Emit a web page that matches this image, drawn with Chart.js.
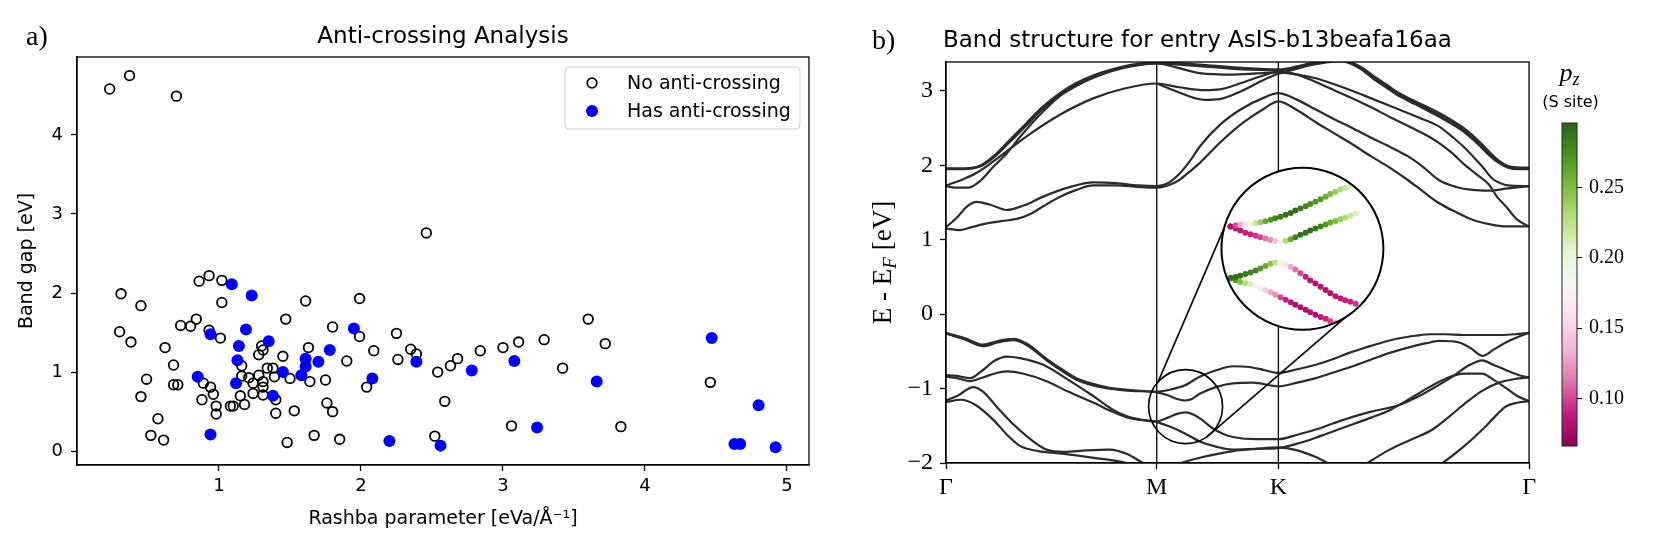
<!DOCTYPE html>
<html>
<head>
<meta charset="utf-8">
<script src="https://cdn.jsdelivr.net/npm/chart.js@4.4.1/dist/chart.umd.min.js"></script>
<style>
  body { margin: 0; background: #fff; }
  #wrap { position: relative; width: 1660px; height: 543px; }
  canvas { position: absolute; top: 0; }
</style>
</head>
<body>
<div id="wrap">
  <canvas id="scatter" width="840" height="543" style="left:0px"></canvas>
  <canvas id="bands" width="700" height="543" style="left:840px"></canvas>
  <canvas id="cbar" width="120" height="543" style="left:1540px"></canvas>
</div>
<script>
// ---------- panel a) anti-crossing scatter ----------
const noX = [0.23, 0.37, 0.70, 0.31, 0.45, 0.30, 0.38, 0.62, 0.68, 0.49, 0.45, 0.68, 0.71, 0.57, 0.52, 0.61,
  0.86, 0.93, 1.02, 1.02, 0.84, 0.73, 0.80, 0.93, 1.01, 1.47, 1.61, 1.80, 1.99, 1.99, 1.63, 1.90, 1.45,
  1.30, 1.31, 1.28, 1.16, 1.21, 1.16, 1.28, 1.34, 1.38, 1.24, 1.31, 1.31, 1.24, 1.31, 1.39, 1.50, 1.64, 1.75,
  0.89, 0.94, 0.96, 0.88, 0.98, 0.98, 1.08, 1.10, 1.15, 1.18, 1.40, 1.40, 1.53, 1.76, 1.80, 1.67, 1.48, 1.85,
  2.46, 2.09, 2.25, 2.26, 2.35, 2.39, 2.04, 2.54, 2.63, 2.68, 2.59, 2.84, 3.00, 3.11, 3.29, 3.42, 3.60, 3.72,
  4.46, 3.06, 3.83, 2.52];
const noY = [4.58, 4.75, 4.49, 1.99, 1.84, 1.51, 1.38, 1.31, 1.09, 0.91, 0.69, 0.84, 0.84, 0.41, 0.20, 0.14,
  2.15, 2.22, 2.16, 1.88, 1.67, 1.59, 1.58, 1.53, 1.43, 1.67, 1.90, 1.57, 1.93, 1.45, 1.31, 1.14, 1.20,
  1.33, 1.28, 1.22, 1.08, 0.93, 0.95, 0.96, 1.05, 1.05, 0.86, 0.88, 0.81, 0.73, 0.71, 0.94, 0.92, 0.88, 0.90,
  0.86, 0.81, 0.72, 0.65, 0.57, 0.47, 0.57, 0.57, 0.70, 0.59, 0.65, 0.48, 0.51, 0.61, 0.50, 0.20, 0.11, 0.15,
  2.76, 1.27, 1.49, 1.16, 1.29, 1.23, 0.81, 1.00, 1.08, 1.17, 0.63, 1.27, 1.31, 1.38, 1.41, 1.05, 1.67, 1.36,
  0.87, 0.32, 0.31, 0.19];
const hasX = [1.09, 1.23, 0.94, 1.19, 1.14, 1.35, 1.13, 0.85, 1.12, 1.45, 1.38, 1.61, 1.61, 1.58, 1.70, 1.78,
  1.95, 0.94, 2.08, 2.39, 2.78, 3.08, 3.66, 4.47, 4.80, 3.24, 2.20, 2.56, 4.63, 4.67, 4.92];
const hasY = [2.11, 1.97, 1.48, 1.54, 1.33, 1.39, 1.15, 0.94, 0.86, 1.00, 0.70, 1.17, 1.07, 0.96, 1.13, 1.28,
  1.55, 0.21, 0.92, 1.13, 1.02, 1.14, 0.88, 1.43, 0.58, 0.30, 0.13, 0.07, 0.09, 0.09, 0.05];
const gapTicks = [0, 1, 2, 3, 4];
const rashbaTicks = [1, 2, 3, 4, 5];
const legendLabels = ['No anti-crossing', 'Has anti-crossing'];

// ---------- panel b) band structure ----------
const kLabels = ['Γ', 'M', 'K', 'Γ'];
const kPos = [0, 0.570, 0.899, 1.577];
const energyTicks = [-2, -1, 0, 1, 2, 3];

// conduction bands, [k, E]
const cb1a = [[0,1.96],[0.05,1.96],[0.09,1.99],[0.128,2.12],[0.17,2.33],[0.218,2.57],[0.26,2.78],[0.308,2.97],
  [0.35,3.10],[0.40,3.21],[0.45,3.29],[0.50,3.35],[0.570,3.38],[0.64,3.37],[0.72,3.34],[0.80,3.31],[0.899,3.29],
  [0.95,3.33],[1.00,3.39],[1.07,3.43],[1.12,3.31],[1.154,3.19],[1.19,3.07],[1.226,2.95],[1.27,2.84],[1.316,2.72],
  [1.36,2.60],[1.406,2.45],[1.44,2.30],[1.47,2.15],[1.496,2.04],[1.52,1.98],[1.55,1.96],[1.577,1.96]];
const cb1b = [[0,1.95],[0.05,1.95],[0.09,1.98],[0.128,2.10],[0.17,2.30],[0.218,2.54],[0.26,2.75],[0.308,2.95],
  [0.35,3.08],[0.40,3.19],[0.45,3.28],[0.50,3.34],[0.570,3.37],[0.64,3.35],[0.72,3.32],[0.80,3.29],[0.899,3.28],
  [0.95,3.31],[1.00,3.36],[1.07,3.40],[1.12,3.30],[1.154,3.17],[1.19,3.05],[1.226,2.93],[1.27,2.82],[1.316,2.70],
  [1.36,2.58],[1.406,2.43],[1.44,2.28],[1.47,2.13],[1.496,2.03],[1.52,1.97],[1.55,1.95],[1.577,1.95]];
const cb2 = [[0,1.72],[0.03,1.70],[0.06,1.70],[0.09,1.78],[0.128,1.98],[0.164,2.16],[0.20,2.38],[0.25,2.66],
  [0.308,2.93],[0.35,3.06],[0.40,3.18],[0.45,3.27],[0.50,3.33],[0.570,3.37],[0.62,3.32],[0.686,3.24],[0.78,3.22],
  [0.899,3.25],[0.95,3.22],[1.0,3.17],[1.05,3.09],[1.1,3.00],[1.15,2.90],[1.2,2.80],[1.25,2.70],[1.28,2.64],
  [1.334,2.52],[1.37,2.38],[1.40,2.25],[1.451,1.98],[1.478,1.82],[1.50,1.76],[1.52,1.73],[1.577,1.72]];
const cb3 = [[0,1.73],[0.04,1.80],[0.083,1.90],[0.146,2.12],[0.218,2.39],[0.308,2.68],[0.398,2.90],[0.48,3.03],
  [0.570,3.10],[0.63,3.05],[0.70,3.01],[0.74,3.02],[0.80,3.11],[0.86,3.21],[0.899,3.26],[0.95,3.22],[1.0,3.12],
  [1.05,3.01],[1.1,2.90],[1.15,2.78],[1.2,2.65],[1.25,2.53],[1.29,2.43],[1.334,2.30],[1.37,2.16],[1.40,2.02],
  [1.435,1.88],[1.469,1.74],[1.49,1.58],[1.514,1.45],[1.545,1.27],[1.577,1.18]];
const cb4 = [[0.570,3.10],[0.62,3.00],[0.70,2.88],[0.74,2.89],[0.80,3.00],[0.86,3.15],[0.899,3.23],[0.95,3.30],
  [1.0,3.37],[1.07,3.41],[1.12,3.33],[1.154,3.21],[1.19,3.09],[1.226,2.97],[1.27,2.86],[1.316,2.75],[1.36,2.63],
  [1.406,2.48],[1.44,2.33],[1.47,2.18],[1.496,2.06],[1.52,1.99],[1.55,1.97],[1.577,1.97]];
const cbX = [[0,1.17],[0.03,1.30],[0.055,1.44],[0.083,1.51],[0.12,1.47],[0.164,1.40],[0.21,1.46],[0.263,1.58],
  [0.33,1.70],[0.398,1.77],[0.46,1.76],[0.52,1.73],[0.570,1.72],[0.60,1.76],[0.63,1.88],[0.66,2.06],[0.686,2.25],
  [0.74,2.54],[0.80,2.76],[0.86,2.91],[0.899,2.97],[0.95,2.88],[1.0,2.75],[1.05,2.62],[1.1,2.50],[1.15,2.37],
  [1.2,2.25],[1.25,2.12],[1.29,1.98],[1.334,1.80],[1.38,1.71],[1.424,1.67],[1.47,1.66],[1.52,1.69],[1.577,1.72]];
const cbY = [[0,1.15],[0.038,1.13],[0.07,1.17],[0.11,1.22],[0.15,1.25],[0.191,1.28],[0.23,1.35],[0.263,1.45],
  [0.31,1.58],[0.353,1.67],[0.398,1.73],[0.46,1.73],[0.52,1.71],[0.570,1.70],[0.60,1.73],[0.63,1.80],[0.66,1.92],
  [0.686,2.03],[0.74,2.30],[0.80,2.56],[0.86,2.76],[0.899,2.86],[0.95,2.74],[1.0,2.58],[1.05,2.43],[1.1,2.28],
  [1.15,2.12],[1.2,1.97],[1.25,1.80],[1.29,1.65],[1.334,1.49],[1.38,1.37],[1.424,1.27],[1.47,1.21],[1.514,1.18],
  [1.577,1.18]];

// valence bands, [k, E]
const vb1a = [[0,-0.25],[0.05,-0.32],[0.101,-0.41],[0.14,-0.36],[0.182,-0.33],[0.22,-0.40],[0.272,-0.60],
  [0.31,-0.73],[0.353,-0.86],[0.40,-0.94],[0.443,-0.99],[0.50,-1.02],[0.570,-1.04],[0.61,-1.01],[0.645,-0.96],
  [0.686,-0.84],[0.74,-0.74],[0.776,-0.70],[0.82,-0.71],[0.86,-0.75],[0.899,-0.79],[0.95,-0.74],[1.0,-0.68],
  [1.05,-0.60],[1.09,-0.52],[1.14,-0.44],[1.18,-0.38],[1.23,-0.32],[1.27,-0.29],[1.31,-0.27],[1.35,-0.27],
  [1.40,-0.28],[1.45,-0.28],[1.50,-0.28],[1.54,-0.27],[1.577,-0.25]];
const vb1b = [[0,-0.26],[0.05,-0.34],[0.101,-0.43],[0.14,-0.38],[0.182,-0.35],[0.22,-0.42],[0.272,-0.62],
  [0.31,-0.75],[0.353,-0.88],[0.40,-0.96],[0.443,-1.00],[0.50,-1.03],[0.570,-1.05],[0.60,-1.09],[0.625,-1.14],
  [0.645,-1.16],[0.665,-1.14],[0.686,-1.07],[0.73,-0.98],[0.776,-0.93],[0.83,-0.92],[0.899,-0.97],[0.95,-0.92],
  [1.0,-0.86],[1.05,-0.78],[1.10,-0.70],[1.15,-0.61],[1.20,-0.52],[1.25,-0.45],[1.30,-0.39],[1.334,-0.36],
  [1.388,-0.38],[1.42,-0.46],[1.451,-0.56],[1.48,-0.48],[1.514,-0.38],[1.55,-0.30],[1.577,-0.25]];
const vb2a = [[0,-0.82],[0.03,-0.83],[0.065,-0.86],[0.10,-0.75],[0.13,-0.63],[0.164,-0.57],[0.20,-0.59],
  [0.263,-0.68],[0.33,-0.88],[0.398,-1.10],[0.45,-1.28],[0.488,-1.37],[0.53,-1.42],[0.570,-1.44],[0.60,-1.39],
  [0.625,-1.34],[0.648,-1.32],[0.67,-1.35],[0.69,-1.41],[0.72,-1.53],[0.75,-1.61],[0.776,-1.65],[0.84,-1.68],
  [0.899,-1.68],[0.95,-1.62],[1.0,-1.55],[1.046,-1.47],[1.10,-1.38],[1.15,-1.31],[1.226,-1.22],[1.28,-1.10],
  [1.33,-0.96],[1.37,-0.84],[1.41,-0.70],[1.451,-0.62],[1.48,-0.68],[1.514,-0.75],[1.55,-0.82],[1.577,-0.85]];
const vb2b = [[0,-0.84],[0.03,-0.86],[0.065,-0.90],[0.10,-0.85],[0.13,-0.80],[0.164,-0.77],[0.21,-0.80],
  [0.272,-0.90],[0.33,-1.04],[0.40,-1.19],[0.45,-1.31],[0.50,-1.40],[0.570,-1.45],[0.61,-1.52],[0.645,-1.60],
  [0.686,-1.71],[0.73,-1.78],[0.776,-1.82],[0.84,-1.81],[0.899,-1.80],[0.95,-1.74],[1.0,-1.66],[1.05,-1.57],
  [1.1,-1.48],[1.15,-1.39],[1.2,-1.29],[1.25,-1.15],[1.30,-1.00],[1.35,-0.87],[1.40,-0.80],[1.45,-0.80],
  [1.48,-0.88],[1.514,-0.99],[1.545,-1.10],[1.577,-1.17]];
const vb3 = [[0,-1.16],[0.03,-1.10],[0.074,-0.98],[0.10,-1.04],[0.14,-1.26],[0.18,-1.47],[0.218,-1.64],
  [0.25,-1.76],[0.272,-1.82],[0.32,-1.85],[0.38,-1.83],[0.443,-1.82],[0.49,-1.88],[0.533,-2.0],[0.570,-2.08],
  [0.62,-2.02],[0.686,-1.93],[0.776,-1.84],[0.84,-1.81],[0.899,-1.79],[0.95,-1.83],[1.0,-1.92],[1.04,-2.02],
  [1.08,-2.12]];
const vb4 = [[0,-1.18],[0.04,-1.15],[0.08,-1.22],[0.128,-1.42],[0.165,-1.62],[0.20,-1.77],[0.25,-1.84],
  [0.308,-1.87],[0.40,-1.93],[0.488,-2.0],[0.54,-2.08],[0.57,-2.12]];
const vb5 = [[1.08,-2.2],[1.14,-2.0],[1.20,-1.82],[1.26,-1.68],[1.316,-1.55],[1.36,-1.38],[1.406,-1.19],
  [1.45,-1.03],[1.496,-0.92],[1.54,-0.87],[1.577,-0.85]];
const vb6 = [[1.28,-2.2],[1.343,-2.0],[1.40,-1.78],[1.451,-1.55],[1.49,-1.35],[1.514,-1.24],[1.545,-1.19],
  [1.577,-1.17]];
const bandList = [cb1a, cb1b, cb2, cb3, cb4, cbX, cbY, vb1a, vb1b, vb2a, vb2b, vb3, vb4, vb5, vb6];

// zoomed inset: projected p_z weight (S site) on the anti-crossing bands
const insetK = [0.570, 0.579, 0.587, 0.596, 0.605, 0.614, 0.622, 0.631, 0.640, 0.648, 0.657, 0.666, 0.675,
  0.683, 0.692, 0.701, 0.709, 0.718, 0.727, 0.736, 0.744, 0.753, 0.762, 0.770, 0.779, 0.788];
const upperA = [-1.028, -1.020, -1.013, -1.008, -1.004, -0.999, -0.993, -0.984, -0.972, -0.960, -0.946, -0.931,
  -0.915, -0.896, -0.878, -0.861, -0.842, -0.823, -0.802, -0.781, -0.760, -0.740, -0.721, -0.706, -0.696, -0.688];
const upperB = [-1.028, -1.044, -1.061, -1.078, -1.092, -1.104, -1.115, -1.127, -1.139, -1.150, -1.158, -1.147,
  -1.133, -1.115, -1.096, -1.078, -1.060, -1.044, -1.028, -1.011, -0.995, -0.981, -0.967, -0.953, -0.939, -0.921];
const lowerA = [-1.453, -1.444, -1.434, -1.420, -1.406, -1.391, -1.374, -1.354, -1.335, -1.325, -1.328, -1.341,
  -1.359, -1.381, -1.413, -1.442, -1.472, -1.498, -1.524, -1.551, -1.578, -1.602, -1.621, -1.635, -1.648, -1.664];
const lowerB = [-1.454, -1.471, -1.485, -1.495, -1.504, -1.519, -1.536, -1.553, -1.569, -1.588, -1.610, -1.631,
  -1.652, -1.672, -1.693, -1.714, -1.734, -1.755, -1.773, -1.789, -1.808, -1.825, -1.841, -1.858, -1.874, -1.891];
const wUpperA = [0.08, 0.10, 0.13, 0.16, 0.19, 0.22, 0.24, 0.26, 0.27, 0.28, 0.285, 0.29, 0.29, 0.29, 0.285,
  0.28, 0.275, 0.27, 0.27, 0.26, 0.25, 0.24, 0.23, 0.22, 0.21, 0.19];
const wUpperB = [0.08, 0.08, 0.085, 0.09, 0.09, 0.095, 0.10, 0.11, 0.12, 0.14, 0.18, 0.23, 0.26, 0.28, 0.29,
  0.29, 0.29, 0.285, 0.28, 0.27, 0.26, 0.25, 0.24, 0.23, 0.22, 0.21];
const wLowerA = [0.29, 0.29, 0.29, 0.285, 0.28, 0.28, 0.27, 0.26, 0.245, 0.225, 0.195, 0.16, 0.13, 0.11, 0.10,
  0.09, 0.085, 0.08, 0.08, 0.08, 0.08, 0.085, 0.085, 0.09, 0.09, 0.095];
const wLowerB = [0.28, 0.27, 0.25, 0.23, 0.21, 0.19, 0.17, 0.15, 0.13, 0.12, 0.10, 0.09, 0.085, 0.08, 0.08,
  0.08, 0.08, 0.08, 0.085, 0.09, 0.10, 0.12, 0.13, 0.14, 0.15, 0.16];

// inset placement (main-axis units) and inset axis limits
const insetBoxK = [0.745, 1.183];
const insetBoxE = [-0.208, 1.966];
const insetLimK = [0.5543, 0.8365];
const insetLimE = [-1.878, -0.544];
const zoomSpot = { k: 0.648, E: -1.242, r: 37 };
const connectorAngles = [[222, 195], [56, 58]];

// colorbar
const cbMin = 0.066;
const cbMax = 0.296;
const cbTicks = [0.10, 0.15, 0.20, 0.25];
const piygStops = ['#8e0152', '#c51b7d', '#de77ae', '#f1b6da', '#fde0ef', '#f7f7f7',
  '#e6f5d0', '#b8e186', '#7fbc41', '#4d9221', '#276419'];

const SANS = 'DejaVu Sans';
const SERIF = 'Liberation Serif';

function hexRgb(h) {
  return [parseInt(h.slice(1, 3), 16), parseInt(h.slice(3, 5), 16), parseInt(h.slice(5, 7), 16)];
}

function piyg(v) {
  let t = (v - cbMin) / (cbMax - cbMin);
  t = Math.min(1, Math.max(0, t)) * (piygStops.length - 1);
  const i = Math.min(Math.floor(t), piygStops.length - 2);
  const f = t - i;
  const a = hexRgb(piygStops[i]);
  const b = hexRgb(piygStops[i + 1]);
  const c = a.map((va, j) => Math.round(va + (b[j] - va) * f));
  return 'rgb(' + c.join(',') + ')';
}

// axis limits of a hidden scale so the inset window lands on its box
function mapLimits(lim, box, axMin, axMax) {
  const s = (lim[1] - lim[0]) / (box[1] - box[0]);
  return [lim[0] - (box[0] - axMin) * s, lim[0] + (axMax - box[0]) * s];
}

function fixTicks(values) {
  return function (scale) {
    scale.ticks = values.map(v => ({ value: v }));
  };
}

// ---------- chart a) ----------
const scatterDecor = {
  id: 'scatterDecor',
  afterDraw(chart) {
    const ctx = chart.ctx;
    const a = chart.chartArea;
    ctx.save();
    ctx.strokeStyle = '#000';
    ctx.lineWidth = 1.3;
    ctx.strokeRect(a.left, a.top, a.right - a.left, a.bottom - a.top);

    ctx.fillStyle = '#000';
    ctx.textBaseline = 'alphabetic';
    ctx.font = '23px "' + SANS + '"';
    ctx.textAlign = 'center';
    ctx.fillText('Anti-crossing Analysis', (a.left + a.right) / 2, a.top - 14.5);
    ctx.font = '28px "' + SERIF + '"';
    ctx.textAlign = 'left';
    ctx.fillText('a)', 26, 45);

    // legend box (upper right)
    const bw = 235, bh = 62;
    const bx = a.right - 9 - bw, by = a.top + 10;
    ctx.beginPath();
    ctx.roundRect(bx, by, bw, bh, 4);
    ctx.fillStyle = 'rgba(255,255,255,0.8)';
    ctx.fill();
    ctx.strokeStyle = '#cccccc';
    ctx.lineWidth = 1;
    ctx.stroke();

    const mx = bx + 27;
    const rows = [by + 16, by + 44];
    ctx.beginPath();
    ctx.arc(mx, rows[0], 4.8, 0, Math.PI * 2);
    ctx.strokeStyle = '#000';
    ctx.lineWidth = 1.8;
    ctx.stroke();
    ctx.beginPath();
    ctx.arc(mx, rows[1], 6, 0, Math.PI * 2);
    ctx.fillStyle = '#0000ff';
    ctx.fill();

    ctx.fillStyle = '#000';
    ctx.font = '19px "' + SANS + '"';
    ctx.textBaseline = 'middle';
    ctx.fillText(legendLabels[0], bx + 62, rows[0] + 1);
    ctx.fillText(legendLabels[1], bx + 62, rows[1] + 1);
    ctx.restore();
  }
};

new Chart(document.getElementById('scatter'), {
  type: 'scatter',
  data: {
    datasets: [
      {
        label: legendLabels[0],
        data: noX.map((x, i) => ({ x: x, y: noY[i] })),
        pointRadius: 4.8,
        pointBorderWidth: 1.8,
        pointBorderColor: '#000',
        pointBackgroundColor: 'rgba(0,0,0,0)',
        order: 1
      },
      {
        label: legendLabels[1],
        data: hasX.map((x, i) => ({ x: x, y: hasY[i] })),
        pointRadius: 6,
        pointBorderWidth: 0,
        pointBorderColor: '#0000ff',
        pointBackgroundColor: '#0000ff',
        order: 0
      }
    ]
  },
  options: {
    responsive: false,
    animation: false,
    devicePixelRatio: 1,
    events: [],
    layout: { padding: { left: 0, top: 57, right: 31, bottom: 0 } },
    plugins: { legend: { display: false }, tooltip: { enabled: false } },
    scales: {
      x: {
        type: 'linear',
        min: 0,
        max: 5.155,
        afterBuildTicks: fixTicks(rashbaTicks),
        afterFit: s => { s.height = 78; },
        grid: { drawOnChartArea: false, drawTicks: true, tickLength: 6, tickWidth: 1.3, tickColor: '#000' },
        border: { display: true, color: '#000', width: 1.3 },
        ticks: { color: '#000', font: { family: SANS, size: 18 }, padding: 5, maxRotation: 0, autoSkip: false },
        title: {
          display: true,
          text: 'Rashba parameter [eVa/Å⁻¹]',
          color: '#000',
          font: { family: SANS, size: 19 },
          padding: { top: 0, bottom: 13 }
        }
      },
      y: {
        type: 'linear',
        min: -0.175,
        max: 4.985,
        afterBuildTicks: fixTicks(gapTicks),
        afterFit: s => { s.width = 77; },
        grid: { drawOnChartArea: false, drawTicks: true, tickLength: 6, tickWidth: 1.3, tickColor: '#000' },
        border: { display: true, color: '#000', width: 1.3 },
        ticks: { color: '#000', font: { family: SANS, size: 18 }, padding: 8, autoSkip: false },
        title: {
          display: true,
          text: 'Band gap [eV]',
          color: '#000',
          font: { family: SANS, size: 19 },
          padding: { top: 16, bottom: 0 }
        }
      }
    }
  },
  plugins: [scatterDecor]
});

// ---------- chart b) ----------
function insetCircle(chart) {
  const x = chart.scales.x, y = chart.scales.y;
  const l = x.getPixelForValue(insetBoxK[0]), r = x.getPixelForValue(insetBoxK[1]);
  const t = y.getPixelForValue(insetBoxE[1]), b = y.getPixelForValue(insetBoxE[0]);
  return { x: (l + r) / 2, y: (t + b) / 2, r: (r - l) / 2 };
}

const bandDecor = {
  id: 'bandDecor',
  beforeDatasetsDraw(chart) {
    const ctx = chart.ctx, a = chart.chartArea, x = chart.scales.x;
    ctx.save();
    ctx.strokeStyle = '#000';
    ctx.lineWidth = 1.3;
    [kPos[1], kPos[2]].forEach(k => {
      const px = x.getPixelForValue(k);
      ctx.beginPath();
      ctx.moveTo(px, a.top);
      ctx.lineTo(px, a.bottom);
      ctx.stroke();
    });
    ctx.restore();
    chart.$insetStarted = false;
  },
  beforeDatasetDraw(chart, args) {
    if (!chart.data.datasets[args.index].inset) return;
    const ctx = chart.ctx;
    const c = insetCircle(chart);
    if (!chart.$insetStarted) {
      chart.$insetStarted = true;
      ctx.save();
      ctx.fillStyle = '#fff';
      ctx.beginPath();
      ctx.arc(c.x, c.y, c.r, 0, Math.PI * 2);
      ctx.fill();
      ctx.restore();
    }
    ctx.save();
    ctx.beginPath();
    ctx.arc(c.x, c.y, c.r, 0, Math.PI * 2);
    ctx.clip();
  },
  afterDatasetDraw(chart, args) {
    if (chart.data.datasets[args.index].inset) chart.ctx.restore();
  },
  afterDatasetsDraw(chart) {
    const ctx = chart.ctx;
    const c = insetCircle(chart);
    const sx = chart.scales.x.getPixelForValue(zoomSpot.k);
    const sy = chart.scales.y.getPixelForValue(zoomSpot.E);
    ctx.save();
    ctx.strokeStyle = '#000';
    ctx.lineWidth = 1.6;
    ctx.beginPath();
    ctx.arc(sx, sy, zoomSpot.r, 0, Math.PI * 2);
    ctx.stroke();
    connectorAngles.forEach(p => {
      const a0 = p[0] * Math.PI / 180, a1 = p[1] * Math.PI / 180;
      ctx.beginPath();
      ctx.moveTo(sx + zoomSpot.r * Math.cos(a0), sy + zoomSpot.r * Math.sin(a0));
      ctx.lineTo(c.x + c.r * Math.cos(a1), c.y + c.r * Math.sin(a1));
      ctx.stroke();
    });
    ctx.lineWidth = 2;
    ctx.beginPath();
    ctx.arc(c.x, c.y, c.r, 0, Math.PI * 2);
    ctx.stroke();
    ctx.restore();
  },
  afterDraw(chart) {
    const ctx = chart.ctx, a = chart.chartArea;
    ctx.save();
    ctx.strokeStyle = '#000';
    ctx.lineWidth = 1.3;
    ctx.strokeRect(a.left, a.top, a.right - a.left, a.bottom - a.top);

    ctx.fillStyle = '#000';
    ctx.textBaseline = 'alphabetic';
    ctx.textAlign = 'left';
    ctx.font = '23px "' + SANS + '"';
    ctx.fillText('Band structure for entry AsIS-b13beafa16aa', a.left - 3, a.top - 15.5);
    ctx.font = '28px "' + SERIF + '"';
    ctx.fillText('b)', 32, 49);

    // y label: E - E_F [eV]
    const big = '27px "' + SERIF + '"';
    const sub = 'italic 19px "' + SERIF + '"';
    const parts = [['E - E', big, 0], ['F', sub, 5], [' [eV]', big, 0]];
    let total = 0;
    parts.forEach(p => { ctx.font = p[1]; total += ctx.measureText(p[0]).width; });
    ctx.translate(42, (a.top + a.bottom) / 2);
    ctx.rotate(-Math.PI / 2);
    let px = -total / 2;
    parts.forEach(p => {
      ctx.font = p[1];
      ctx.fillText(p[0], px, 9 + p[2]);
      px += ctx.measureText(p[0]).width;
    });
    ctx.restore();
  }
};

const x2Lim = mapLimits(insetLimK, insetBoxK, kPos[0], kPos[3]);
const y2Lim = mapLimits(insetLimE, insetBoxE, -2, 3.389);

const bandSets = bandList.map(b => ({
  type: 'line',
  data: b.map(p => ({ x: p[0], y: p[1] })),
  borderColor: '#2b2b2b',
  borderWidth: 2.2,
  pointRadius: 0,
  cubicInterpolationMode: 'monotone',
  fill: false,
  order: 2
}));

const insetSets = [[upperA, wUpperA], [upperB, wUpperB], [lowerA, wLowerA], [lowerB, wLowerB]].map(s => ({
  type: 'scatter',
  inset: true,
  xAxisID: 'x2',
  yAxisID: 'y2',
  data: insetK.map((k, i) => ({ x: k, y: s[0][i] })),
  pointRadius: 3,
  pointBorderWidth: 0,
  pointBackgroundColor: s[1].map(piyg),
  pointBorderColor: s[1].map(piyg),
  order: 1
}));

new Chart(document.getElementById('bands'), {
  type: 'line',
  data: { datasets: bandSets.concat(insetSets) },
  options: {
    responsive: false,
    animation: false,
    devicePixelRatio: 1,
    events: [],
    layout: { padding: { left: 0, top: 62, right: 10, bottom: 0 } },
    plugins: { legend: { display: false }, tooltip: { enabled: false } },
    scales: {
      x: {
        type: 'linear',
        min: kPos[0],
        max: kPos[3],
        afterBuildTicks: fixTicks(kPos),
        afterFit: s => { s.height = 80; },
        grid: { drawOnChartArea: false, drawTicks: true, tickLength: 6, tickWidth: 1.3, tickColor: '#000' },
        border: { display: true, color: '#000', width: 1.3 },
        ticks: {
          color: '#000',
          font: { family: SERIF, size: 24 },
          padding: 4,
          maxRotation: 0,
          autoSkip: false,
          callback: (v, i) => kLabels[i]
        }
      },
      y: {
        type: 'linear',
        min: -2,
        max: 3.389,
        afterBuildTicks: fixTicks(energyTicks),
        afterFit: s => { s.width = 106; },
        grid: { drawOnChartArea: false, drawTicks: true, tickLength: 6, tickWidth: 1.3, tickColor: '#000' },
        border: { display: true, color: '#000', width: 1.3 },
        ticks: {
          color: '#000',
          font: { family: SERIF, size: 24 },
          padding: 7,
          autoSkip: false,
          callback: v => (v < 0 ? '\u2212' + Math.abs(v) : String(v))
        }
      },
      x2: { type: 'linear', display: false, min: x2Lim[0], max: x2Lim[1] },
      y2: { type: 'linear', display: false, min: y2Lim[0], max: y2Lim[1] }
    }
  },
  plugins: [bandDecor]
});

// ---------- colorbar ----------
const cbarDecor = {
  id: 'cbarDecor',
  afterDraw(chart) {
    const ctx = chart.ctx, a = chart.chartArea;
    ctx.save();
    ctx.strokeStyle = '#222';
    ctx.lineWidth = 1;
    ctx.strokeRect(a.left, a.top, a.right - a.left, a.bottom - a.top);
    ctx.fillStyle = '#000';
    ctx.textBaseline = 'alphabetic';
    ctx.textAlign = 'left';
    ctx.font = 'italic 26px "' + SERIF + '"';
    const pw = ctx.measureText('p').width;
    ctx.font = 'italic 18px "' + SERIF + '"';
    const zw = ctx.measureText('z').width;
    const cx = (a.left + a.right) / 2;
    ctx.font = 'italic 26px "' + SERIF + '"';
    ctx.fillText('p', cx - (pw + zw) / 2, 81);
    ctx.font = 'italic 18px "' + SERIF + '"';
    ctx.fillText('z', cx - (pw + zw) / 2 + pw, 85);
    ctx.font = '16px "' + SANS + '"';
    ctx.textAlign = 'center';
    ctx.fillText('(S site)', cx + 1, 107);
    ctx.restore();
  }
};

new Chart(document.getElementById('cbar'), {
  type: 'bar',
  data: {
    labels: ['pz'],
    datasets: [{
      data: [[cbMin, cbMax]],
      backgroundColor: c => {
        const a = c.chart.chartArea;
        if (!a) return '#f7f7f7';
        const g = c.chart.ctx.createLinearGradient(0, a.bottom, 0, a.top);
        piygStops.forEach((col, i) => g.addColorStop(i / (piygStops.length - 1), col));
        return g;
      },
      borderWidth: 0,
      barPercentage: 1,
      categoryPercentage: 1
    }]
  },
  options: {
    responsive: false,
    animation: false,
    devicePixelRatio: 1,
    events: [],
    layout: { padding: { left: 22, top: 123, right: 0, bottom: 97 } },
    plugins: { legend: { display: false }, tooltip: { enabled: false } },
    scales: {
      x: { display: false },
      y: {
        position: 'right',
        min: cbMin,
        max: cbMax,
        afterBuildTicks: fixTicks(cbTicks),
        afterFit: s => { s.width = 83; },
        grid: { drawOnChartArea: false, drawTicks: true, tickLength: 5, tickWidth: 1, tickColor: '#000' },
        border: { display: false },
        ticks: {
          color: '#000',
          font: { family: SERIF, size: 20 },
          padding: 7,
          autoSkip: false,
          callback: v => v.toFixed(2)
        }
      }
    }
  },
  plugins: [cbarDecor]
});
</script>
</body>
</html>
